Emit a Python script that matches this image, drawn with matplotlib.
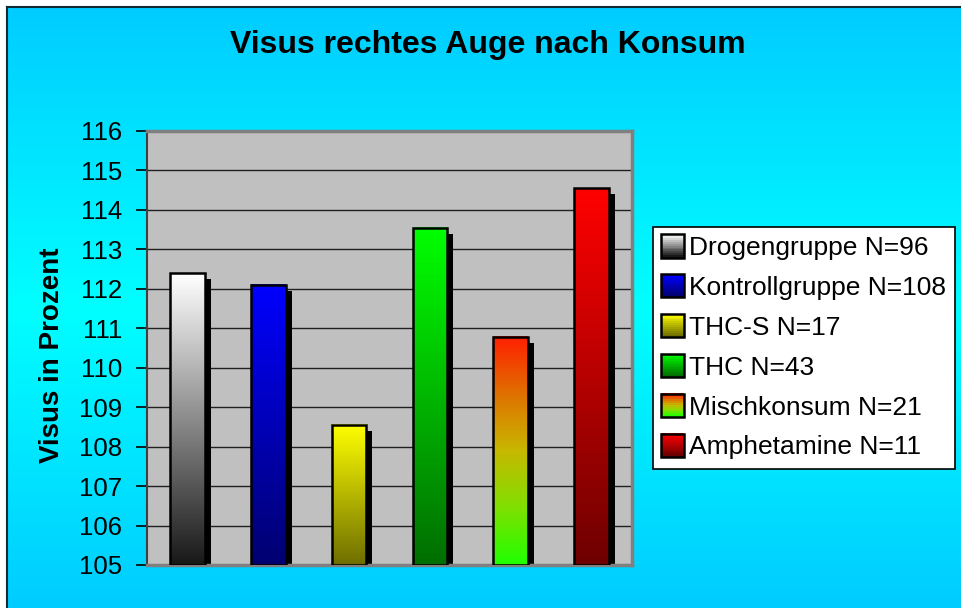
import matplotlib.pyplot as plt
import numpy as np
from matplotlib.colors import LinearSegmentedColormap
from matplotlib.legend_handler import HandlerBase
from matplotlib.patches import Rectangle
from matplotlib.lines import Line2D
import matplotlib.transforms as mtransforms

plt.rcParams['font.family'] = ['Liberation Sans', 'DejaVu Sans']

title = 'Visus rechtes Auge nach Konsum'
ylabel = 'Visus in Prozent'
groups = ['Drogengruppe N=96', 'Kontrollgruppe N=108', 'THC-S N=17',
          'THC N=43', 'Mischkonsum N=21', 'Amphetamine N=11']
values = [112.4, 112.1, 108.55, 113.55, 110.78, 114.55]
# gradient colours, top -> bottom
grads = [
    ['#ffffff', '#181818'],
    ['#0000ff', '#000070'],
    ['#ffff00', '#6e6e00'],
    ['#00ff00', '#006e00'],
    ['#ff2000', '#e07000', '#c8b800', '#80e000', '#20ff00'],
    ['#ff0000', '#6e0000'],
]
ymin, ymax = 105, 116

W, H = 962, 608
fig = plt.figure(figsize=(W / 100, H / 100), dpi=100)
fig.patch.set_facecolor('white')

# background with gradient (sky blue -> cyan -> sky blue)
bg = fig.add_axes([7 / W, 0, 955 / W, 601 / H], zorder=-10)
t = np.linspace(0, 1, 256)
col = np.zeros((256, 1, 3))
col[:, 0, 1] = 0.8 + 0.2 * (1 - np.abs(t - 0.5) * 2)
col[:, 0, 2] = 1.0
bg.imshow(col, aspect='auto', extent=[0, 1, 0, 1])
bg.set_xlim(0, 1)
bg.set_ylim(0, 1)
bg.axis('off')
fig.add_artist(Line2D([7 / W, 7 / W], [0, 601 / H], color='#102a33', lw=1.5))
fig.add_artist(Line2D([7 / W, 1], [601 / H, 601 / H], color='#102a33', lw=1.5))

ax = fig.add_axes([147 / W, 43 / H, 485 / W, 434 / H])
ax.set_facecolor('#c0c0c0')

x = np.arange(len(values))
width = 0.43
# drop shadows, shifted 6px right and down
shadow_tr = ax.transData + mtransforms.ScaledTranslation(6 / 100, -6 / 100, fig.dpi_scale_trans)
ax.bar(x, np.array(values) - ymin, width, bottom=ymin, color='black',
       transform=shadow_tr, zorder=2)
for xi, v, gc in zip(x, values, grads):
    cmap = LinearSegmentedColormap.from_list('g', gc)
    img = np.linspace(0, 1, 200).reshape(-1, 1)
    ax.imshow(img, cmap=cmap, aspect='auto', origin='upper',
              extent=[xi - width / 2, xi + width / 2, ymin, v], zorder=3)
ax.bar(x, np.array(values) - ymin, width, bottom=ymin, color='none',
       edgecolor='black', linewidth=1.8, zorder=4)

ax.set_xlim(-0.5, len(values) - 0.5)
ax.set_ylim(ymin, ymax)
ax.set_yticks(np.arange(ymin, ymax + 1))
ax.set_xticks([])
ax.yaxis.grid(True, color='#202020', lw=1)
ax.set_axisbelow(True)
ax.tick_params(axis='y', labelsize=18.5, length=8, width=1.2, pad=10)
for s in ['top', 'right', 'bottom']:
    ax.spines[s].set_color('#808080')
    ax.spines[s].set_linewidth(2.5)
ax.spines['left'].set_color('#404040')
ax.spines['left'].set_linewidth(1.5)

fig.text(488 / W, 1 - 45 / H, title, ha='center', va='center',
         fontsize=23, fontweight='bold')
fig.text(52 / W, 1 - 355 / H, ylabel, ha='center', va='center',
         rotation=90, fontsize=20, fontweight='bold')


class GradHandler(HandlerBase):
    def __init__(self, colors):
        super().__init__()
        self.colors = colors

    def create_artists(self, legend, orig_handle, xdescent, ydescent,
                       width, height, fontsize, trans):
        cmap = LinearSegmentedColormap.from_list('g', self.colors)
        side = height * 1.25
        x0 = -xdescent + (width - side) / 2
        y0 = -ydescent + (height - side) / 2
        arts = []
        n = 12
        for i in range(n):
            c = cmap(i / (n - 1))
            arts.append(Rectangle((x0, y0 + side * (n - 1 - i) / n), side, side / n + 0.3,
                                  facecolor=c, edgecolor='none', transform=trans))
        arts.append(Rectangle((x0, y0), side, side, facecolor='none',
                              edgecolor='black', lw=1.8, transform=trans))
        return arts


handles = [Rectangle((0, 0), 1, 1) for _ in groups]
hmap = {h: GradHandler(gc) for h, gc in zip(handles, grads)}
leg = fig.legend(handles, groups, handler_map=hmap, loc='upper left',
                 bbox_to_anchor=(653 / W, 1 - 227 / H), fontsize=19,
                 frameon=True, fancybox=False, edgecolor='black',
                 facecolor='white', framealpha=1,
                 handlelength=0.8, handletextpad=0.2, labelspacing=0.6,
                 borderpad=0.35, borderaxespad=0)
leg.get_frame().set_linewidth(1.2)

fig.savefig('out.png', dpi=100)
